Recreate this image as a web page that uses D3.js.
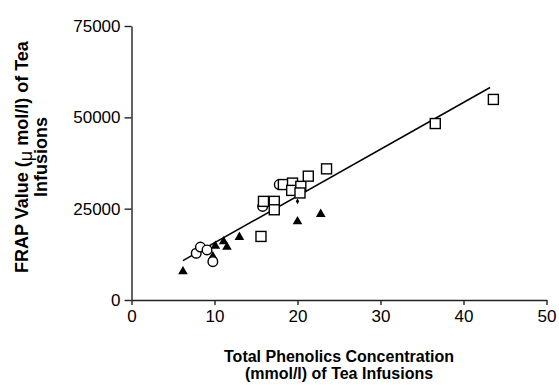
<!DOCTYPE html>
<html>
<head>
<meta charset="utf-8">
<script src="https://cdn.jsdelivr.net/npm/d3@7"></script>
<style>
body{margin:0;background:#fff;}
text{font-family:"Liberation Sans",Arial,sans-serif;fill:#000;}
</style>
</head>
<body>
<svg id="chart"></svg>
<script>
var width=559, height=385;

// data: [total phenolics (mmol/l), FRAP (umol/l)]
var squareX=[15.6,15.9,17.2,17.2,18.3,19.4,19.3,20.4,20.3,21.3,23.5,36.6,43.6];
var squareY=[17400,27000,27000,24700,31600,32000,30000,31100,29300,33900,35900,48300,54900];
var circleX=[7.8,8.3,9.1,9.8,15.8,17.8];
var circleY=[12800,14500,13700,10500,25600,31600];
var triangleX=[6.2,9.8,10.1,11.1,11.5,13.0,20.0,22.8];
var triangleY=[7800,11900,14800,16000,14500,17200,21500,23500];
var diamondX=[20.0];
var diamondY=[27000];
var fitSlope=1280, fitIntercept=2864, fitRange=[6.2,43.2];
var xTicks=[0,10,20,30,40,50];
var yTicks=[0,25000,50000,75000];

var svg=d3.select("#chart").attr("width",width).attr("height",height);

var x=d3.scaleLinear().domain([0,50]).range([131.5,546.5]);
var y=d3.scaleLinear().domain([0,75000]).range([300,26]);

var xAxis=svg.append("g")
    .attr("transform","translate(0,"+y(0)+")")
    .call(d3.axisBottom(x).tickValues(xTicks).tickFormat(d3.format("d")).tickSize(5).tickPadding(5).tickSizeOuter(0));
var yAxis=svg.append("g")
    .attr("transform","translate("+x(0)+",0)")
    .call(d3.axisLeft(y).tickValues(yTicks).tickFormat(d3.format("d")).tickSize(7).tickPadding(4).tickSizeOuter(0));
svg.selectAll(".tick text").style("font-size","17px").style("font-family","Liberation Sans, Arial, sans-serif");
svg.selectAll(".domain, .tick line").attr("stroke","#222").attr("stroke-width",1.4);

// regression line
svg.append("line")
    .attr("x1",x(fitRange[0])).attr("y1",y(fitIntercept+fitSlope*fitRange[0]))
    .attr("x2",x(fitRange[1])).attr("y2",y(fitIntercept+fitSlope*fitRange[1]))
    .attr("stroke","#000").attr("stroke-width",1.5);

var tri=d3.symbol().type(d3.symbolTriangle).size(40);
svg.append("g").selectAll("path").data(triangleX).enter().append("path")
    .attr("d",tri)
    .attr("transform",function(d,i){return "translate("+x(d)+","+y(triangleY[i])+")";})
    .attr("fill","#000");

svg.append("g").selectAll("circle").data(circleX).enter().append("circle")
    .attr("cx",function(d){return x(d);})
    .attr("cy",function(d,i){return y(circleY[i]);})
    .attr("r",4.8)
    .attr("fill","#fff").attr("stroke","#000").attr("stroke-width",1.4);

svg.append("g").selectAll("rect").data(squareX).enter().append("rect")
    .attr("x",function(d){return x(d)-5;})
    .attr("y",function(d,i){return y(squareY[i])-5;})
    .attr("width",10).attr("height",10)
    .attr("fill","#fff").attr("stroke","#000").attr("stroke-width",1.4);

svg.append("g").selectAll("path").data(diamondX).enter().append("path")
    .attr("d",d3.symbol().type(d3.symbolDiamond).size(10))
    .attr("transform",function(d,i){return "translate("+x(d)+","+y(diamondY[i])+")";})
    .attr("fill","#000");

// axis titles
var xt=svg.append("text").attr("text-anchor","middle")
    .style("font-size","16px").style("font-weight","bold");
xt.append("tspan").attr("x",339).attr("y",362).text("Total Phenolics Concentration");
xt.append("tspan").attr("x",339).attr("y",379).text("(mmol/l) of Tea Infusions");

var yt=svg.append("text").attr("text-anchor","middle")
    .attr("transform","translate(28,157) rotate(-90)")
    .style("font-size","18px").style("font-weight","bold");
var l1=yt.append("tspan").attr("x",0).attr("y",0);
l1.append("tspan").text("FRAP Value (");
l1.append("tspan").attr("dy",4).style("font-weight","normal").text("μ");
l1.append("tspan").attr("dy",-4).text(" mol/l) of Tea");
yt.append("tspan").attr("x",0).attr("y",19).text("Infusions");
</script>
</body>
</html>
